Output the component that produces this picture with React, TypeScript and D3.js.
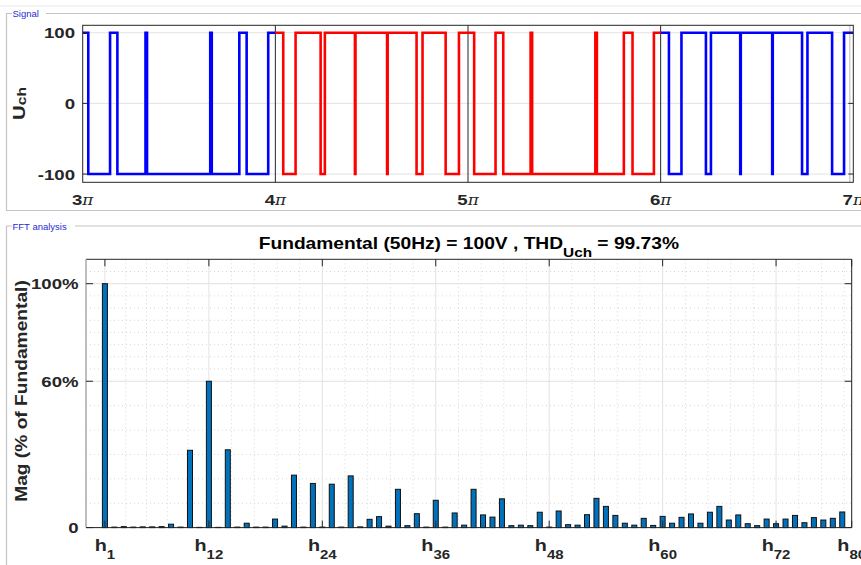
import React from "react";
import * as d3 from "d3";

// ---------- DATA ----------
// Signal: switching instants (in units of pi) and starting level for each coloured segment
const seg1Start = 3;
const seg1End = 4;
const seg1Level0 = 100;
const seg1Switches = [3.029, 3.142, 3.18, 3.326, 3.334, 3.662, 3.67, 3.813, 3.851, 3.963];

const seg2Start = 4;
const seg2End = 6;
const seg2Level0 = 100;
const seg2Switches = [
  4.041, 4.105, 4.235, 4.257, 4.413, 4.416, 4.58, 4.583, 4.733, 4.764, 4.884, 4.953,
  5.032, 5.143, 5.183, 5.325, 5.333, 5.661, 5.669, 5.809, 5.854, 5.965,
];

const seg3Start = 6;
const seg3End = 7;
const seg3Level0 = 100;
const seg3Switches = [6.043, 6.108, 6.235, 6.261, 6.413, 6.416, 6.579, 6.582, 6.734, 6.762, 6.89, 6.952];

const signalYTicks = [-100, 0, 100];
const signalXTicks = [3, 4, 5, 6, 7];

// FFT: magnitude (% of fundamental) for harmonic orders 0..79
const harmonicMag = [
  0, 100, 0.2, 0.4, 0.2, 0.3, 0.3, 0.4, 1.4, 0.2,
  31.7, 0.1, 60, 0.1, 31.9, 0.2, 1.8, 0.2, 0.2, 3.5,
  0.6, 21.5, 0.2, 18.1, 0.2, 17.8, 0.2, 21.2, 0.3, 3.4,
  4.5, 0.6, 15.7, 0.8, 5.7, 0.2, 11.2, 0.2, 6.0, 1.0,
  15.7, 5.2, 4.3, 11.8, 0.8, 1.0, 0.8, 6.3, 0.2, 6.8,
  1.2, 1.0, 5.3, 12.0, 8.7, 5.0, 1.8, 1.0, 3.8, 0.9,
  4.6, 1.8, 4.2, 5.6, 1.8, 6.3, 8.7, 3.1, 5.2, 1.6,
  0.8, 3.5, 1.6, 3.5, 5.0, 2.0, 4.1, 3.1, 3.8, 6.4,
];
const fftXTicks = [1, 12, 24, 36, 48, 60, 72, 80];
const fftXMinor = [3.2, 5.4, 7.6, 9.8, 14.4, 16.8, 19.2, 21.6, 26.4, 28.8, 31.2, 33.6, 38.4, 40.8, 43.2, 45.6, 50.4, 52.8, 55.2, 57.6, 62.4, 64.8, 67.2, 69.6, 74.4, 76.8, 79.2];
const fftYTicks = [0, 60, 100];
const fftYTickLabels = ["0", "60%", "100%"];
const fftYMinor = [10, 20, 30, 40, 50, 65, 70, 75, 80, 85, 90, 95, 105];

const titleMain = "Fundamental (50Hz) = 100V , THD";
const titleSub = "Uch";
const titleEnd = " = 99.73%";

// ---------- STYLE ----------
const FONT = "'Liberation Sans', Arial, Helvetica, sans-serif";
const SX = 1.2;
const INK = "#262626";

function buildSteps(start: number, end: number, level0: number, switches: number[]) {
  const pts: [number, number][] = [[start, level0]];
  let lvl = level0;
  for (const t of switches) {
    pts.push([t, lvl]);
    lvl = -lvl;
    pts.push([t, lvl]);
  }
  pts.push([end, lvl]);
  return pts;
}

const ST = ({ x, y, rot = 0, anchor = "middle", size, weight = "bold", fill = INK, children }: any) => (
  <g transform={`translate(${x},${y}) rotate(${rot}) scale(${SX},1)`}>
    <text x={0} y={0} textAnchor={anchor} fontFamily={FONT} fontSize={size} fontWeight={weight} fill={fill}>
      {children}
    </text>
  </g>
);

export default function App() {
  // top panel scales
  const sx = d3.scaleLinear().domain([3, 7]).range([82.7, 853.3]);
  const sy = d3.scaleLinear().domain([-111.7, 110.5]).range([182.3, 25.3]);
  const line = d3
    .line<[number, number]>()
    .x((d) => sx(d[0]))
    .y((d) => sy(d[1]));
  const p1 = buildSteps(seg1Start, seg1End, seg1Level0, seg1Switches);
  const p2 = buildSteps(seg2Start, seg2End, seg2Level0, seg2Switches);
  const p3 = buildSteps(seg3Start, seg3End, seg3Level0, seg3Switches);
  const [sx0, sx1] = sx.range();
  const [syB, syT] = sy.range();

  // fft scales
  const fx = d3.scaleLinear().domain([-1, 80]).range([86, 851.7]);
  const fy = d3.scaleLinear().domain([0, 110]).range([527.6, 259.3]);
  const [fx0, fx1] = fx.range();
  const [fyB, fyT] = fy.range();
  const barW = fx(0.53) - fx(0);

  return (
    <svg
      width={861}
      height={565}
      style={{ position: "fixed", left: 0, top: 0, background: "#fff" }}
      xmlns="http://www.w3.org/2000/svg"
    >
      <rect x={0} y={0} width={861} height={565} fill="#fff" />
      <line x1={0} x2={861} y1={6} y2={6} stroke="#e6e6e6" />
      {/* panel 1 frame */}
      <path d="M 46 13.5 H 861 M 12 13.5 H 6.5 V 210.5 H 861" fill="none" stroke="#c4c4c4" strokeWidth={1.2} />
      <text x={12.5} y={17} fontFamily={FONT} fontSize={9.5} fill="#2a2ad4">Signal</text>
      {/* panel 2 frame */}
      <path d="M 75 226 H 861 M 12 226 H 6.5 V 565" fill="none" stroke="#c4c4c4" strokeWidth={1.2} />
      <text x={12.5} y={229.5} fontFamily={FONT} fontSize={9.5} fill="#2a2ad4">FFT analysis</text>

      {/* ---------- SIGNAL AXES ---------- */}
      <defs>
        <clipPath id="clipTop">
          <rect x={sx0} y={syT - 2} width={sx1 - sx0} height={syB - syT + 4} />
        </clipPath>
      </defs>
      {signalYTicks.map((t) => (
        <line key={"gy" + t} x1={sx0} x2={sx1} y1={sy(t)} y2={sy(t)} stroke="#e3e3e3" strokeWidth={1} />
      ))}
      <line x1={sx1 - 3.5} x2={sx1 - 3.5} y1={syT} y2={syB} stroke="#d0d0d0" strokeWidth={1.5} />
      {signalXTicks.slice(1, -1).map((t) => (
        <line key={"gx" + t} x1={sx(t)} x2={sx(t)} y1={syT} y2={syB} stroke={INK} strokeWidth={1} />
      ))}
      <g clipPath="url(#clipTop)" fill="none" strokeWidth={2.6} strokeLinejoin="miter">
        <path d={line(p1) || ""} stroke="#0000ff" />
        <path d={line(p3) || ""} stroke="#0000ff" />
        <path d={line(p2) || ""} stroke="#ff0000" />
      </g>
      <rect x={sx0} y={syT} width={sx1 - sx0} height={syB - syT} fill="none" stroke={INK} strokeWidth={1} />
      {signalYTicks.map((t) => (
        <g key={"ty" + t}>
          <line x1={sx0} x2={sx0 + 5} y1={sy(t)} y2={sy(t)} stroke={INK} />
          <line x1={sx1 - 5} x2={sx1} y1={sy(t)} y2={sy(t)} stroke={INK} />
          <ST x={75} y={sy(t) + 5.5} anchor="end" size={15.5}>
            {String(t)}
          </ST>
        </g>
      ))}
      {signalXTicks.map((t) => (
        <g key={"tx" + t} transform={`translate(${sx(t)},205) scale(${SX},1)`}>
          <text x={0} y={0} textAnchor="middle" fontFamily={FONT} fontSize={15.5} fill={INK}>
            <tspan fontWeight="bold">{String(t)}</tspan>
            <tspan fontFamily="'DejaVu Serif', serif" fontStyle="italic" fontSize={14}>π</tspan>
          </text>
        </g>
      ))}
      <g transform={`translate(25,103.5) rotate(-90) scale(${SX},1)`}>
        <text x={0} y={0} textAnchor="middle" fontFamily={FONT} fontWeight="bold" fill={INK}>
          <tspan fontSize={17}>U</tspan>
          <tspan fontSize={13} dy={1}>ch</tspan>
        </text>
      </g>

      {/* ---------- FFT AXES ---------- */}
      {fftYMinor.map((t) => (
        <line key={"my" + t} x1={fx0} x2={fx1} y1={fy(t)} y2={fy(t)} stroke="#d6d6d6" strokeDasharray="1 3" />
      ))}
      {fftXMinor.map((t) => (
        <line key={"mx" + t} x1={fx(t)} x2={fx(t)} y1={fyT} y2={fyB} stroke="#d6d6d6" strokeDasharray="1 3" />
      ))}
      {fftYTicks.map((t) => (
        <line key={"fgy" + t} x1={fx0} x2={fx1} y1={fy(t)} y2={fy(t)} stroke="#e0e0e0" strokeWidth={1} />
      ))}
      {fftXTicks.map((t) => (
        <line key={"fgx" + t} x1={fx(t)} x2={fx(t)} y1={fyT} y2={fyB} stroke="#e3e3e3" strokeWidth={1} />
      ))}
      {harmonicMag.map((v, i) => (
        <rect
          key={"b" + i}
          x={fx(i) - barW / 2}
          y={fy(v)}
          width={barW}
          height={Math.max(0, fyB - fy(v))}
          fill="#0072bd"
          stroke="#111"
          strokeWidth={1}
        />
      ))}
      <line x1={fx0} x2={fx1} y1={fyT} y2={fyT} stroke={INK} />
      <line x1={fx1} x2={fx1} y1={fyT} y2={fyB} stroke={INK} />
      <line x1={fx0} x2={fx1} y1={fyB} y2={fyB} stroke={INK} />
      <line x1={fx0} x2={fx0} y1={fyT} y2={fyB} stroke="#a8a8a8" strokeWidth={1.5} />
      {fftXTicks.map((t) => (
        <g key={"ftx" + t}>
          <line x1={fx(t)} x2={fx(t)} y1={fyT} y2={fyT + 7} stroke={INK} />
          <line x1={fx(t)} x2={fx(t)} y1={fyB} y2={fyB - 7} stroke={INK} />
          <g transform={`translate(${fx(t)},550.5) scale(${SX},1)`}>
            <text x={0} y={0} textAnchor="middle" fontFamily={FONT} fontWeight="bold" fill={INK}>
              <tspan fontSize={16.5}>h</tspan>
              <tspan fontSize={12.5} dy={8}>{String(t)}</tspan>
            </text>
          </g>
        </g>
      ))}
      {fftYTicks.map((t, i) => (
        <g key={"fty" + t}>
          <line x1={fx0} x2={fx0 + 7} y1={fy(t)} y2={fy(t)} stroke={INK} />
          <line x1={fx1 - 7} x2={fx1} y1={fy(t)} y2={fy(t)} stroke={INK} />
          <ST x={78.5} y={fy(t) + 5.5} anchor="end" size={15.5}>
            {fftYTickLabels[i]}
          </ST>
        </g>
      ))}
      <ST x={27} y={391} rot={-90} size={16}>
        Mag (% of Fundamental)
      </ST>
      <g transform={`translate(${(fx0 + fx1) / 2},248.7) scale(${SX},1)`}>
        <text x={0} y={0} textAnchor="middle" fontFamily={FONT} fontWeight="bold" fill="#000">
          <tspan fontSize={16}>{titleMain}</tspan>
          <tspan fontSize={12.8} dy={8.3}>{titleSub}</tspan>
          <tspan fontSize={16} dy={-8.3}>{titleEnd}</tspan>
        </text>
      </g>
    </svg>
  );
}
